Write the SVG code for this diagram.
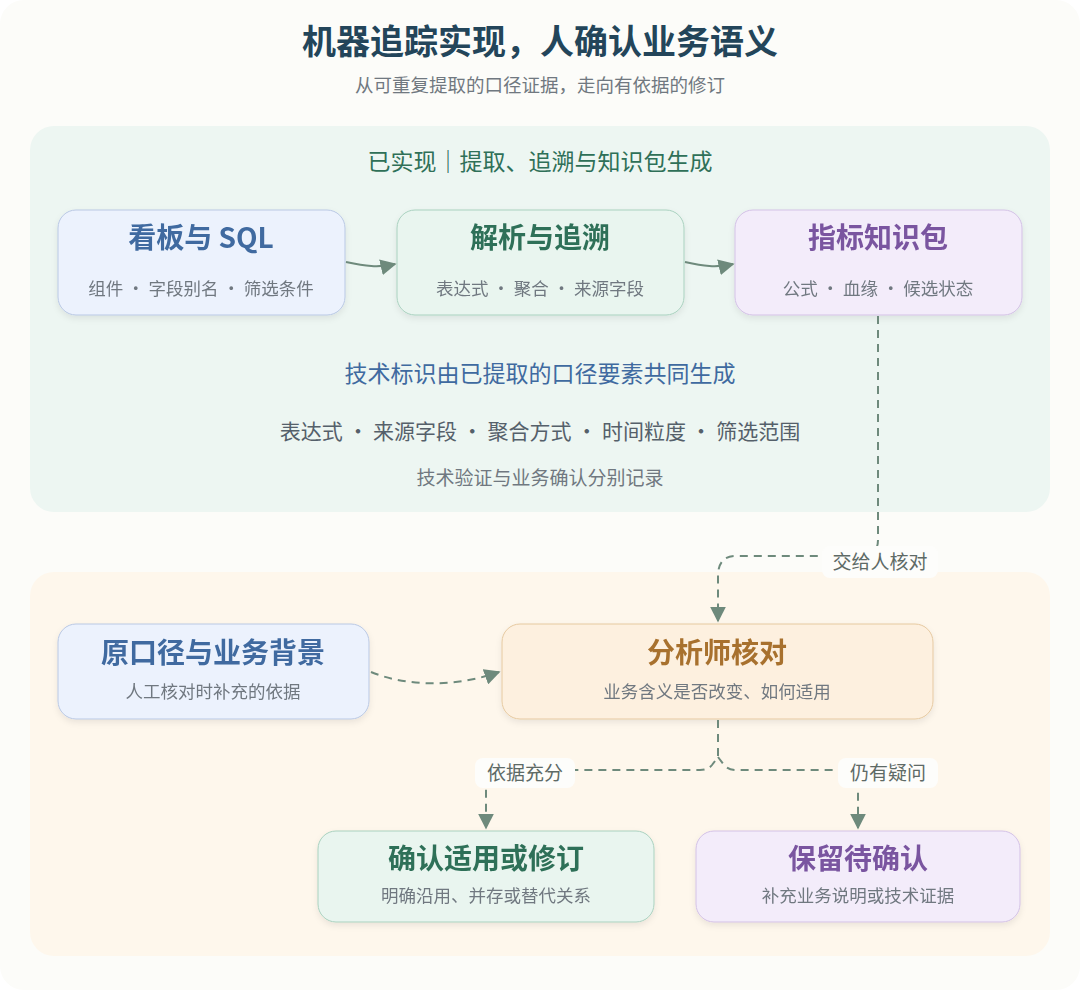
<svg xmlns="http://www.w3.org/2000/svg" width="1080" height="990" viewBox="0 0 1080 990">
<style>
text{font-family:"Noto Sans CJK SC","Noto Sans",sans-serif;text-anchor:middle}
.t{font-size:28px;font-weight:700}
.s{font-size:17.5px;fill:#707880}
.c{fill:none;stroke:#6e8a7c;stroke-width:2;stroke-dasharray:8 6}
.lb{font-size:19px;fill:#5e6a66}
</style>
<defs>
<marker id="a" viewBox="0 0 10 10" refX="9" refY="5" markerWidth="8" markerHeight="8" orient="auto"><path d="M0,0L10,5L0,10z" fill="#6e8a7c"/></marker>
<filter id="sh" x="-10%" y="-10%" width="120%" height="140%"><feDropShadow dx="0" dy="3" stdDeviation="3" flood-opacity="0.08"/></filter>
</defs>
<rect width="1080" height="990" rx="24" fill="#fcfcf9"/>
<text x="540" y="54" style="font-size:34px;font-weight:700;fill:#23455a">机器追踪实现，人确认业务语义</text>
<text x="540" y="92" style="font-size:18.5px;fill:#707880">从可重复提取的口径证据，走向有依据的修订</text>
<rect x="30" y="126" width="1020" height="386" rx="24" fill="#edf6f2"/>
<rect x="30" y="572" width="1020" height="384" rx="24" fill="#fef7ec"/>
<text x="540" y="170" style="font-size:23px;fill:#2f7058">已实现｜提取、追溯与知识包生成</text>
<text x="540" y="382" style="font-size:23px;fill:#3f6aa0">技术标识由已提取的口径要素共同生成</text>
<text x="540" y="439" style="font-size:21px;fill:#55606a">表达式 · 来源字段 · 聚合方式 · 时间粒度 · 筛选范围</text>
<text x="540" y="485" style="font-size:19px;fill:#707880">技术验证与业务确认分别记录</text>
<g id="n1" filter="url(#sh)"><rect x="58" y="210" width="287" height="105" rx="18" fill="#ecf2fd" stroke="#b9c8e4"/><text class="t" x="201" y="248" fill="#3f6aa0">看板与 SQL</text><text class="s" x="201" y="295">组件 · 字段别名 · 筛选条件</text></g>
<g id="n2" filter="url(#sh)"><rect x="397" y="210" width="287" height="105" rx="18" fill="#e9f5ef" stroke="#a9d1bf"/><text class="t" x="540" y="248" fill="#2f7058">解析与追溯</text><text class="s" x="540" y="295">表达式 · 聚合 · 来源字段</text></g>
<g id="n3" filter="url(#sh)"><rect x="735" y="210" width="287" height="105" rx="18" fill="#f3ecfa" stroke="#d3c1e6"/><text class="t" x="878" y="248" fill="#7a55a0">指标知识包</text><text class="s" x="878" y="295">公式 · 血缘 · 候选状态</text></g>
<g id="n4" filter="url(#sh)"><rect x="58" y="624" width="311" height="95" rx="18" fill="#ecf2fd" stroke="#b9c8e4"/><text class="t" x="213" y="663" fill="#3f6aa0">原口径与业务背景</text><text class="s" x="213" y="698">人工核对时补充的依据</text></g>
<g id="n5" filter="url(#sh)"><rect x="502" y="624" width="431" height="95" rx="18" fill="#fdf0df" stroke="#e6c9a0"/><text class="t" x="717" y="663" fill="#a8712e">分析师核对</text><text class="s" x="717" y="698">业务含义是否改变、如何适用</text></g>
<g id="n6" filter="url(#sh)"><rect x="318" y="831" width="336" height="91" rx="18" fill="#e9f5ef" stroke="#a9d1bf"/><text class="t" x="486" y="869" fill="#2f7058">确认适用或修订</text><text class="s" x="486" y="902">明确沿用、并存或替代关系</text></g>
<g id="n7" filter="url(#sh)"><rect x="696" y="831" width="324" height="91" rx="18" fill="#f3ecfa" stroke="#d3c1e6"/><text class="t" x="858" y="869" fill="#7a55a0">保留待确认</text><text class="s" x="858" y="902">补充业务说明或技术证据</text></g>
<g id="connectors">
<path d="M346,262 C365,266 378,268 395,264" fill="none" stroke="#6e8a7c" stroke-width="2" marker-end="url(#a)"/>
<path d="M685,262 C703,266 716,268 733,264" fill="none" stroke="#6e8a7c" stroke-width="2" marker-end="url(#a)"/>
<path class="c" d="M878,316 V540 Q878,556 862,556 H736 Q718,556 718,576 V621" marker-end="url(#a)"/>
<rect x="822" y="546" width="116" height="32" rx="8" fill="#fdfdfb"/>
<text class="lb" x="880" y="569">交给人核对</text>
<path class="c" d="M371,672 C410,688 460,686 499,672" marker-end="url(#a)"/>
<path class="c" d="M718,720 V757 L712,765 Q708,770 700,770 H486 V828" marker-end="url(#a)"/>
<path class="c" d="M718,757 L724,765 Q728,770 736,770 H858 V828" marker-end="url(#a)"/>
<rect x="475" y="758" width="100" height="30" rx="8" fill="#fdfdfb"/>
<text class="lb" x="525" y="780">依据充分</text>
<rect x="838" y="758" width="100" height="30" rx="8" fill="#fdfdfb"/>
<text class="lb" x="888" y="780">仍有疑问</text>
</g>
</svg>
